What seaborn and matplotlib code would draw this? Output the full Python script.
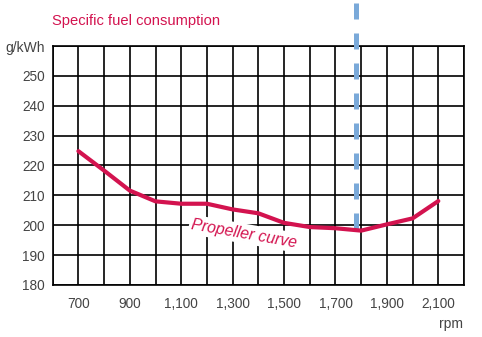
import matplotlib
matplotlib.use("Agg")
import matplotlib.pyplot as plt
import seaborn as sns
import pandas as pd

# ---- data ----
rpm = [700, 800, 900, 1000, 1100, 1200, 1300, 1400, 1500, 1600, 1700, 1800, 1900, 2000, 2100]
sfc = [224.8, 218.3, 211.6, 208.0, 207.2, 207.2, 205.3, 204.0, 200.8, 199.4, 199.0, 198.2, 200.3, 202.3, 208.1]
x_tick_values = [700, 900, 1100, 1300, 1500, 1700, 1900, 2100]
x_tick_labels = ["700", "900", "1,100", "1,300", "1,500", "1,700", "1,900", "2,100"]
y_tick_values = [180, 190, 200, 210, 220, 230, 240, 250]
rated_rpm = 1780
rated_sfc = 198.2
title = "Specific fuel consumption"
y_unit = "g/kWh"
x_unit = "rpm"
curve_label = "Propeller curve"

sns.set_theme(style="white")
plt.rcParams["font.family"] = ["Liberation Sans", "DejaVu Sans"]

RED = "#d3134f"
BLUE = "#7aa9d9"
GREY = "#444444"

W, H = 482, 337
fig = plt.figure(figsize=(W / 100, H / 100), dpi=100)
ax = fig.add_axes([52.7 / W, 1 - 285 / H, (464 - 52.7) / W, (285 - 46) / H])

df = pd.DataFrame({"rpm": rpm, "sfc": sfc})
sns.lineplot(data=df, x="rpm", y="sfc", ax=ax, color=RED, lw=3.0, zorder=5,
             solid_capstyle="round", solid_joinstyle="round")

# dashed vertical rated-speed line (extends above the axes)
ax.plot([rated_rpm, rated_rpm], [274.5, rated_sfc], color=BLUE, lw=3.6,
        dashes=(16 * 0.72 / 3.6, 14 * 0.72 / 3.6), dash_capstyle="butt",
        clip_on=False, zorder=3)

ax.set_xlim(600, 2200)
ax.set_ylim(180, 260)
ax.set_xticks(list(range(600, 2201, 100)))
ax.set_xticklabels([x_tick_labels[x_tick_values.index(v)] if v in x_tick_values else "" for v in range(600, 2201, 100)])
ax.set_yticks(list(range(180, 261, 10)))
ax.set_yticklabels([str(v) if v in y_tick_values else "" for v in range(180, 261, 10)])
ax.tick_params(axis="both", length=0, labelsize=9.8, labelcolor=GREY)
ax.tick_params(axis="x", pad=8.5)
ax.tick_params(axis="y", pad=5.5)
ax.grid(True, color="black", lw=1.2)
ax.set_axisbelow(True)
for s in ax.spines.values():
    s.set_color("black")
    s.set_linewidth(1.2)
ax.set_xlabel("")
ax.set_ylabel("")

ax.text(1345, 197.2, curve_label, color=RED, fontsize=11.4, style="italic",
        rotation=-10, ha="center", va="center", zorder=4,
        bbox=dict(boxstyle="square,pad=0.15", facecolor="white", edgecolor="none"))

fig.text(51.5 / W, 1 - 25 / H, title, color=RED, fontsize=10.6, ha="left", va="baseline")
fig.text(45 / W, 1 - 52 / H, y_unit, color=GREY, fontsize=10, ha="right", va="baseline")
fig.text(463 / W, 1 - 328 / H, x_unit, color=GREY, fontsize=10, ha="right", va="baseline")

fig.savefig("out.png", dpi=100, facecolor="white")
